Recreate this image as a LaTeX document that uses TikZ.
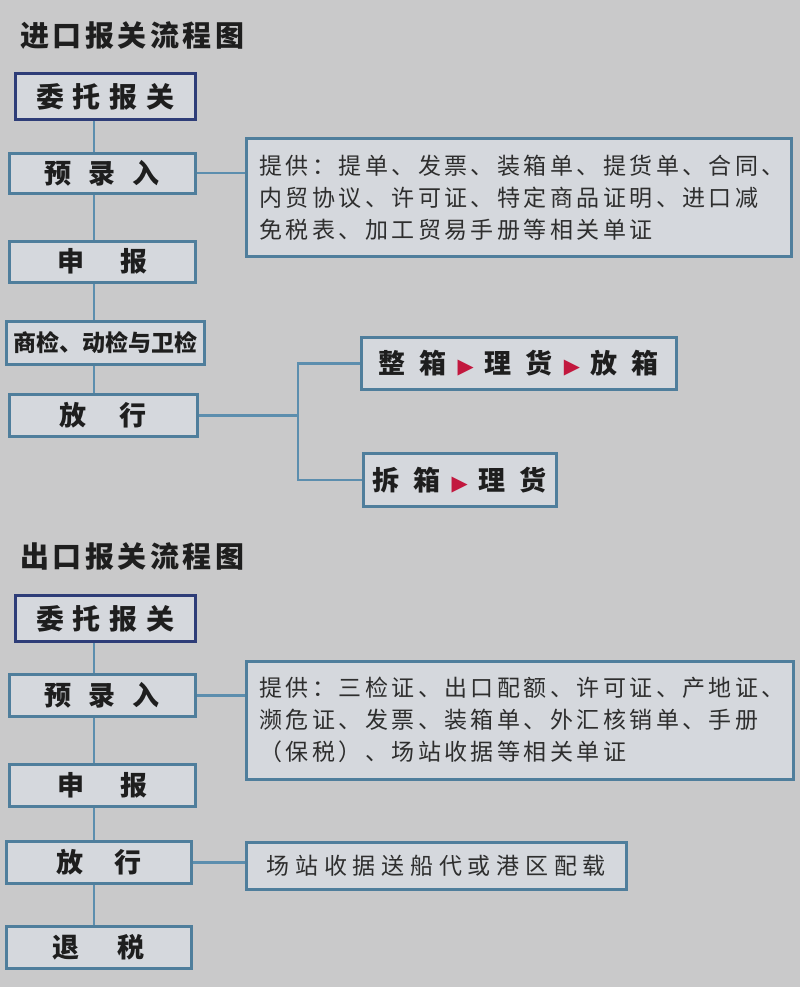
\documentclass[tikz,border=0pt]{standalone}
\usepackage{fontspec}
\setmainfont{Noto Sans CJK SC}
\newfontfamily\ifont{Noto Sans CJK SC}[LetterSpace=15]
\newfontfamily\xfont{Noto Sans CJK SC}[LetterSpace=25]
\newfontfamily\tfont{Noto Sans CJK SC}[LetterSpace=12]
\newfontfamily\symf{DejaVu Sans}
\definecolor{bgc}{HTML}{C9C9CA}
\definecolor{boxc}{HTML}{D5D8DD}
\definecolor{bordc}{HTML}{4F7E9C}
\definecolor{navyc}{HTML}{2E3D78}
\definecolor{linec}{HTML}{5C8EAE}
\definecolor{txtc}{HTML}{1E1E1E}
\definecolor{itxt}{HTML}{2E2E2E}
\definecolor{tric}{HTML}{C2183E}
\newcommand{\tri}{\hspace{11pt}{\symf\fontsize{21}{21}\selectfont\color{tric}▶}\hspace{11pt}}
\begin{document}
\begin{tikzpicture}[x=1pt,y=-1pt,
  mbox/.style={draw=bordc, fill=boxc, line width=2.6pt, anchor=north west, inner sep=0pt,
    text=txtc, font=\bfseries\fontsize{27}{30}\selectfont},
  navybox/.style={mbox, draw=navyc, line width=3pt},
  infobox/.style={draw=bordc, fill=boxc, line width=2.6pt, anchor=north west, inner xsep=13pt, inner ysep=0pt,
    text=itxt, align=left, font=\ifont\fontsize{23}{32}\selectfont},
  conn/.style={draw=linec, line width=2.4pt},
  ttl/.style={anchor=west, inner sep=0pt, text=txtc, font=\tfont\bfseries\fontsize{29}{30}\selectfont}]
\fill[bgc] (0,0) rectangle (800,987);
\coordinate (sp) at (94,0);
\coordinate (br) at (298,0);
% ---------- import ----------
\node[ttl] (t1) at (20,36) {进口报关流程图};
\node[navybox, minimum width=180pt, minimum height=46pt] (i1) at (14,72)
  {\fontsize{28}{30}\selectfont 委\hspace{9pt}托\hspace{9pt}报\hspace{9pt}关};
\node[mbox, minimum width=186pt, minimum height=40pt] (i2) at (8,152) {预\hspace{17pt}录\hspace{17pt}入};
\node[mbox, minimum width=186pt, minimum height=41pt] (i3) at (8,240) {申\hspace{36pt}报\hspace{24pt}};
\node[mbox, minimum width=198pt, minimum height=43pt, font=\bfseries\fontsize{23}{26}\selectfont] (i4) at (5,320) {商检、动检与卫检};
\node[mbox, minimum width=188pt, minimum height=42pt] (i5) at (8,393) {放\hspace{33pt}行\hspace{28pt}};
\node[infobox, minimum width=545pt, minimum height=118pt, text width=519pt] (i6) at (245,137)
  {提供：提单、发票、装箱单、提货单、合同、\\内贸协议、许可证、特定商品证明、进口减\\免税表、加工贸易手册等相关单证};
\node[mbox, minimum width=315pt, minimum height=52pt] (z) at (360,336)
  {整\hspace{14pt}箱\tri 理\hspace{14pt}货\tri 放\hspace{14pt}箱};
\node[mbox, minimum width=193pt, minimum height=53pt] (c) at (362,452)
  {拆\hspace{14pt}箱\tri 理\hspace{14pt}货};
\draw[conn] (i1.south -| sp) -- (i2.north -| sp);
\draw[conn] (i2.south -| sp) -- (i3.north -| sp);
\draw[conn] (i3.south -| sp) -- (i4.north -| sp);
\draw[conn] (i4.south -| sp) -- (i5.north -| sp);
\draw[conn] (i2.east) -- (i2.east -| i6.west);
\draw[conn] (i5.east) -- (i5.east -| br);
\draw[conn] (z.west) -- (z.west -| br) -- (c.west -| br) -- (c.west);
% ---------- export ----------
\node[ttl] (t2) at (20,557) {出口报关流程图};
\node[navybox, minimum width=180pt, minimum height=46pt] (e1) at (14,594)
  {\fontsize{28}{30}\selectfont 委\hspace{9pt}托\hspace{9pt}报\hspace{9pt}关};
\node[mbox, minimum width=186pt, minimum height=42pt] (e2) at (8,673) {预\hspace{17pt}录\hspace{17pt}入};
\node[mbox, minimum width=186pt, minimum height=42pt] (e3) at (8,763) {申\hspace{36pt}报\hspace{24pt}};
\node[mbox, minimum width=185pt, minimum height=42pt] (e4) at (5,840) {放\hspace{31pt}行\hspace{23pt}};
\node[mbox, minimum width=185pt, minimum height=42pt] (e5) at (5,925) {退\hspace{38pt}税\hspace{26pt}};
\node[infobox, minimum width=547pt, minimum height=118pt, text width=521pt] (x1) at (245,660)
  {提供：三检证、出口配额、许可证、产地证、\\濒危证、发票、装箱单、外汇核销单、手册\\（保税）、场站收据等相关单证};
\node[infobox, font=\xfont\fontsize{23}{26}\selectfont, minimum width=380pt, minimum height=47pt] (x2) at (245,841)
  {场站收据送船代或港区配载};
\draw[conn] (e1.south -| sp) -- (e2.north -| sp);
\draw[conn] (e2.south -| sp) -- (e3.north -| sp);
\draw[conn] (e3.south -| sp) -- (e4.north -| sp);
\draw[conn] (e4.south -| sp) -- (e5.north -| sp);
\draw[conn] (e2.east) -- (e2.east -| x1.west);
\draw[conn] (e4.east) -- (e4.east -| x2.west);
\end{tikzpicture}
\end{document}
